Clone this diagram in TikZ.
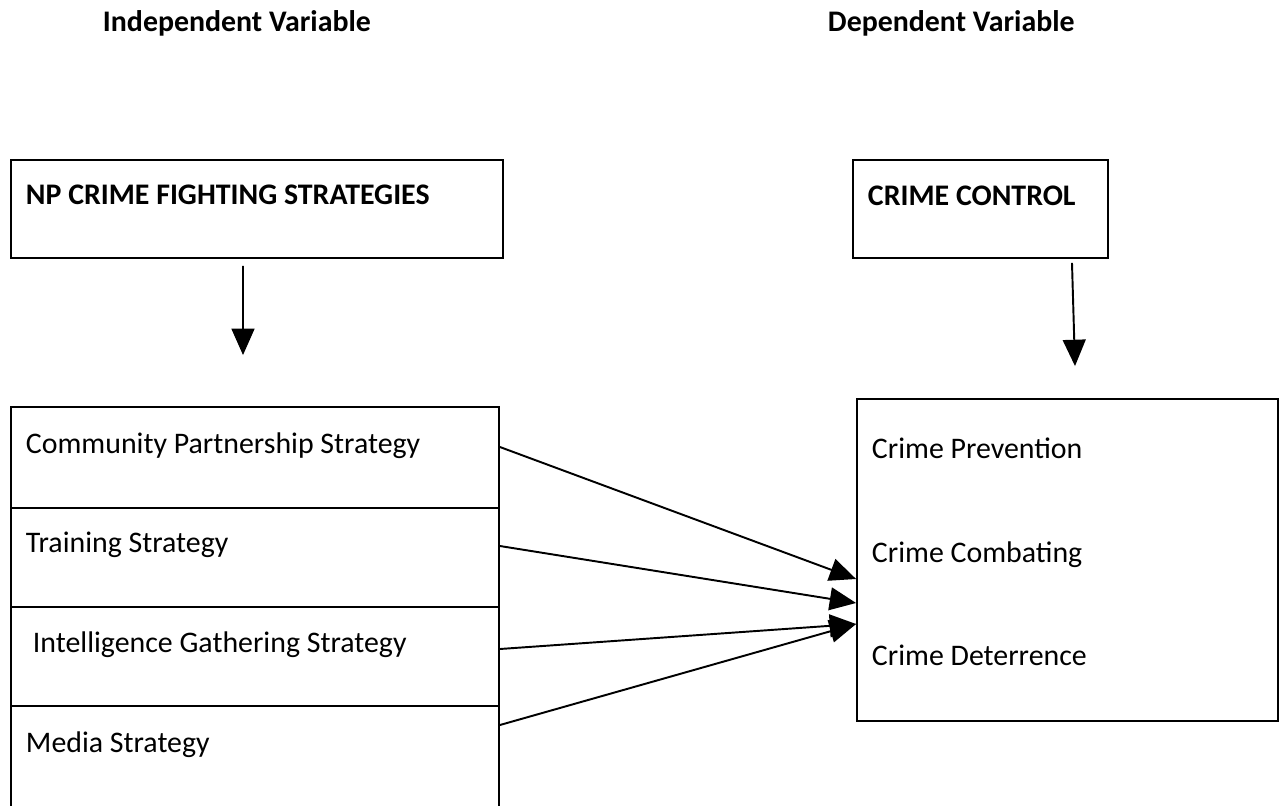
\documentclass[tikz,border=0pt]{standalone}
\usepackage{fontspec}
\setmainfont{Carlito}
\usetikzlibrary{arrows.meta}

\begin{document}
\begin{tikzpicture}[x=0.02cm, y=-0.02cm, line width=1.1pt,
  box/.style={draw, rectangle, inner sep=0pt},
  txt/.style={anchor=base west, inner sep=0pt, font=\fontsize{17}{20}\selectfont},
  hd/.style={anchor=base west, inner sep=0pt, font=\fontsize{17}{20}\selectfont\bfseries},
  arr/.style={-{Triangle[length=15pt, width=13pt]}}]
  \useasboundingbox (0,0) rectangle (1284,805);

  % Headings
  \node[hd] (iv) at (102,31) {Independent Variable};
  \node[hd] (dv) at (827,31) {Dependent Variable};

  % Top boxes
  \node[box, minimum width=9.84cm, minimum height=1.96cm] (np) at (257,209) {};
  \node[box, minimum width=5.10cm, minimum height=1.96cm] (cc) at (980.5,209) {};
  \node[hd] (nptext) at (25,204) {NP CRIME FIGHTING STRATEGIES};
  \node[hd] (cctext) at (867,205) {CRIME CONTROL};

  % Strategy boxes
  \node[box, minimum width=9.76cm, minimum height=2.02cm] (cp) at (255,457.5) {};
  \node[box, minimum width=9.76cm, minimum height=1.98cm] (tr) at (255,557.5) {};
  \node[box, minimum width=9.76cm, minimum height=1.98cm] (ig) at (255,656.5) {};
  \node[box, minimum width=9.76cm, minimum height=2.08cm] (md) at (255,758) {};
  \node[txt] (cptext) at (25,453) {Community Partnership Strategy};
  \node[txt] (trtext) at (25,552) {Training Strategy};
  \node[txt] (igtext) at (32,652) {Intelligence Gathering Strategy};
  \node[txt] (mdtext) at (25,752) {Media Strategy};

  % Outcome box
  \node[box, minimum width=8.42cm, minimum height=6.44cm] (ctl) at (1067.5,560) {};
  \node[txt] (cptn) at (871,458) {Crime Prevention};
  \node[txt] (cbt) at (871,562) {Crime Combating};
  \node[txt] (dtr) at (871,665) {Crime Deterrence};

  % Arrows
  \draw[arr] ([xshift=-0.28cm,yshift=-0.14cm]np.south) -- ([xshift=-0.24cm,yshift=1.02cm]cp.north);
  \draw[arr] ([xshift=1.83cm,yshift=-0.08cm]cc.south) -- ([xshift=0.15cm,yshift=0.64cm]ctl.north);
  \draw[arr] ([yshift=0.21cm]cp.east) -- ([yshift=-0.38cm]ctl.west);
  \draw[arr] ([yshift=0.23cm]tr.east) -- ([yshift=-0.86cm]ctl.west);
  \draw[arr] ([yshift=0.15cm]ig.east) -- ([yshift=-1.28cm]ctl.west);
  \draw[arr] ([yshift=0.66cm]md.east) -- ([yshift=-1.28cm]ctl.west);
\end{tikzpicture}
\end{document}
